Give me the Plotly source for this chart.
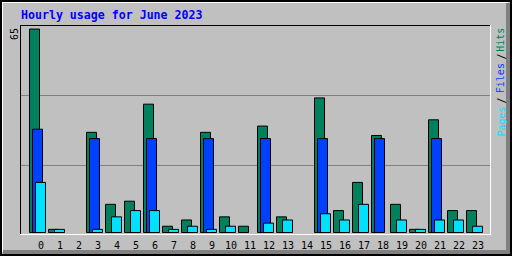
import plotly.graph_objects as go

hours = list(range(24))
hour_labels = [str(h) for h in hours]
hits = [65, 1, 0, 32, 9, 10, 41, 2, 4, 32, 5, 2, 34, 5, 0, 43, 7, 16, 31, 9, 1, 36, 7, 7]
files = [33, 0, 0, 30, 0, 0, 30, 0, 0, 30, 0, 0, 30, 0, 0, 30, 0, 0, 30, 0, 0, 30, 0, 0]
pages = [16, 1, 0, 1, 5, 7, 7, 1, 2, 1, 2, 0, 3, 4, 0, 6, 4, 9, 0, 4, 1, 4, 4, 2]
max_label = "65"
title = "Hourly usage for June 2023"

C_HITS = "#00805c"
C_FILES = "#0040ff"
C_PAGES = "#00e0ff"
BG = "#c0c0c0"

W, H = 512, 256
L, R, T, B = 20, 21, 25, 21
PW, PH = W - L - R, H - T - B


def px(x):
    return (x - L) / PW


def py(y):
    return 1 - (y - T) / PH


def nz(v):
    return [x if x else None for x in v]


def prect(x0, y0, x1, y1, color, layer="above"):
    return dict(type="rect", xref="paper", yref="paper", x0=px(x0), x1=px(x1), y0=py(y0), y1=py(y1),
                fillcolor=color, line=dict(width=0), layer=layer)


fig = go.Figure()
step = 19.0
for vals, col, off in [(hits, C_HITS, -11.5), (files, C_FILES, -8.5), (pages, C_PAGES, -5.5)]:
    fig.add_trace(go.Bar(
        x=hours, y=nz(vals), offset=off / step, width=10 / step,
        marker=dict(color=col, line=dict(color="black", width=1)),
        showlegend=False, hoverinfo="skip"))

shapes = []
# gridlines
for gy in (95, 165):
    shapes.append(prect(21, gy, 490, gy + 1, "#808080", layer="below"))
# inner frame
shapes.append(prect(20, 25, 491, 26, "black"))
shapes.append(prect(20, 25, 21, 235, "black"))
shapes.append(prect(20, 234, 491, 235, "white"))
shapes.append(prect(490, 25, 491, 235, "white"))
# outer bevel
shapes.append(prect(2, 2, 508, 3, "white"))
shapes.append(prect(2, 2, 3, 252, "white"))
shapes.append(prect(506, 3, 510, 254, "#808080"))
shapes.append(prect(3, 250, 510, 254, "#808080"))
shapes.append(prect(0, 0, 512, 2, "black"))
shapes.append(prect(0, 0, 2, 256, "black"))
shapes.append(prect(510, 0, 512, 256, "black"))
shapes.append(prect(0, 254, 512, 256, "black"))

mono = "DejaVu Sans Mono"
ann = []
ann.append(dict(text=title, xref="paper", yref="paper", x=px(19), y=py(15), xanchor="left", yanchor="middle",
                showarrow=False, font=dict(family=mono, size=11.6, color="#0000ff", weight="bold")))
ann.append(dict(text=max_label, xref="paper", yref="paper", x=px(15), y=py(34), textangle=-90,
                xanchor="center", yanchor="middle", showarrow=False, font=dict(family=mono, size=10, color="black")))
for txt, col, yc in [("Pages", C_PAGES, 122), ("/", "black", 101), ("Files", C_FILES, 78.7),
                     ("/", "black", 57), ("Hits", C_HITS, 40.3)]:
    ann.append(dict(text=txt, xref="paper", yref="paper", x=px(500.5), y=py(yc), textangle=-90,
                    xanchor="center", yanchor="middle", showarrow=False,
                    font=dict(family=mono, size=10, color=col)))

fig.update_layout(
    width=W, height=H, margin=dict(l=L, r=R, t=T, b=B, autoexpand=False),
    paper_bgcolor=BG, plot_bgcolor=BG, barmode="overlay",
    xaxis=dict(range=[(20 - 41) / step, (491 - 41) / step], tickvals=hours, ticktext=hour_labels,
               showgrid=False, zeroline=False, showline=False, ticks="", automargin=False,
               ticklabelstandoff=3,
               tickfont=dict(family=mono, size=10, color="black"), fixedrange=True),
    yaxis=dict(range=[-(235 - 232.5) / 3.13, (232.5 - 25) / 3.13], showticklabels=False, automargin=False,
               showgrid=False, zeroline=False, showline=False, fixedrange=True),
    shapes=shapes, annotations=ann,
)
fig.write_html("out.html", config={"displayModeBar": False})
